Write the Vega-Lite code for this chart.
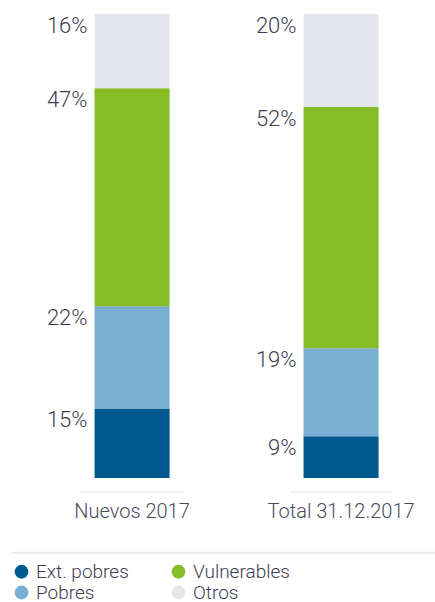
{
  "$schema": "https://vega.github.io/schema/vega-lite/v6.json",
  "autosize": "none",
  "padding": {"left": 12, "top": 14, "right": 0, "bottom": 110},
  "width": 423,
  "height": 478,
  "background": "white",
  "config": {"view": {"stroke": null}, "font": "Roboto"},
  "data": {"values": [
    {"cat": "Nuevos 2017", "seg": "Ext. pobres", "value": 15, "rank": 1, "label": "15%"},
    {"cat": "Nuevos 2017", "seg": "Pobres", "value": 22, "rank": 2, "label": "22%"},
    {"cat": "Nuevos 2017", "seg": "Vulnerables", "value": 47, "rank": 3, "label": "47%"},
    {"cat": "Nuevos 2017", "seg": "Otros", "value": 16, "rank": 4, "label": "16%"},
    {"cat": "Total 31.12.2017", "seg": "Ext. pobres", "value": 9, "rank": 1, "label": "9%"},
    {"cat": "Total 31.12.2017", "seg": "Pobres", "value": 19, "rank": 2, "label": "19%"},
    {"cat": "Total 31.12.2017", "seg": "Vulnerables", "value": 52, "rank": 3, "label": "52%"},
    {"cat": "Total 31.12.2017", "seg": "Otros", "value": 20, "rank": 4, "label": "20%"}
  ]},
  "encoding": {
    "x": {"field": "cat", "type": "nominal", "sort": ["Nuevos 2017", "Total 31.12.2017"],
      "scale": {"paddingInner": 0.641, "paddingOuter": 0.3325, "align": 0.594},
      "axis": {"title": null, "domain": false, "ticks": false, "labelAngle": 0, "labelFontSize": 20, "labelColor": "#4a4a5e", "labelPadding": 9, "labelFont": "Roboto", "labelFontWeight": 300}}
  },
  "layer": [
    {
      "mark": {"type": "bar"},
      "encoding": {
        "y": {"field": "value", "type": "quantitative", "stack": "zero", "scale": {"domain": [-3, 100], "nice": false, "zero": false}, "axis": null},
        "color": {"field": "seg", "type": "nominal",
          "scale": {"domain": ["Ext. pobres", "Vulnerables", "Pobres", "Otros"], "range": ["#00598e", "#86bc25", "#7aafd4", "#e4e8ec"]},
          "legend": {"title": null, "orient": "none", "direction": "horizontal", "legendX": 0, "legendY": 548, "columns": 2, "symbolType": "circle", "symbolSize": 190, "symbolStrokeWidth": 0, "labelFontSize": 19, "labelColor": "#3c3c50", "labelFont": "Roboto", "labelFontWeight": 300, "columnPadding": 36, "rowPadding": 1, "labelOffset": 5, "gridAlign": "all"}},
        "order": {"field": "rank", "type": "quantitative"}
      }
    },
    {
      "mark": {"type": "text", "align": "right", "baseline": "middle", "dx": -44.5, "dy": 12, "fontSize": 22, "fontWeight": 300, "color": "#3c3c50"},
      "encoding": {
        "y": {"field": "value", "type": "quantitative", "stack": "zero"},
        "detail": {"field": "seg"},
        "order": {"field": "rank", "type": "quantitative"},
        "text": {"field": "label"}
      }
    },
    {
      "transform": [{"filter": "datum.rank == 1"}],
      "mark": {"type": "tick", "size": 103, "thickness": 1.5, "color": "#e3e6ea", "orient": "horizontal"},
      "encoding": {"y": {"datum": -3}}
    },
    {
      "transform": [{"filter": "datum.rank == 1 && datum.cat == 'Nuevos 2017'"}],
      "mark": {"type": "rule", "strokeWidth": 2, "color": "#e6e9ed"},
      "encoding": {"y": {"datum": -16.1}, "x": null}
    }
  ]
}
